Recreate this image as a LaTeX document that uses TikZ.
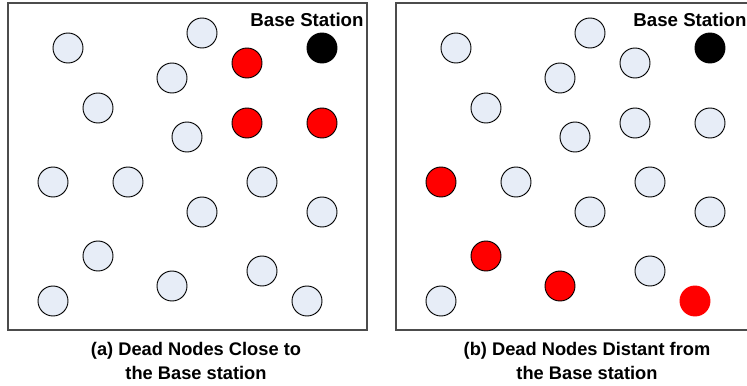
\documentclass[tikz,border=0pt]{standalone}
\usepackage{fontspec}
\setmainfont{Liberation Sans}
\usepackage{tikz}
\usetikzlibrary{shapes}

\begin{document}
\begin{tikzpicture}[x=0.75pt,y=-0.75pt,
  alive/.style={circle,draw,line width=0.7pt,fill=nodeblue,inner sep=0pt,minimum size=22.5pt},
  dead/.style={alive,fill=red},
  sink/.style={alive,fill=black},
  gone/.style={alive,draw=red,fill=red},
  frame/.style={draw=black!70,line width=1.1pt},
  label/.style={font=\fontsize{14}{16}\selectfont\bfseries},
  caption/.style={align=center,font=\fontsize{13.7}{18.5}\selectfont\bfseries}]
\definecolor{nodeblue}{RGB}{231,237,247}
\useasboundingbox (0,0) rectangle (747,386);
% panel (a)
\draw[frame] (8,3) rectangle (367,330);
\node[label,anchor=base] (bsa) at (307,26) {Base Station};
\node[alive] (a1) at (68,48) {};
\node[alive] (a2) at (202,33) {};
\node[dead]  (a3) at (247,63) {};
\node[sink]  (a4) at (322,48) {};
\node[alive] (a5) at (172,78) {};
\node[alive] (a6) at (98,108) {};
\node[alive] (a7) at (187,137) {};
\node[dead]  (a8) at (247,123) {};
\node[dead]  (a9) at (322,123) {};
\node[alive] (a10) at (53,182) {};
\node[alive] (a11) at (128,182) {};
\node[alive] (a12) at (262,182) {};
\node[alive] (a13) at (202,212) {};
\node[alive] (a14) at (322,212) {};
\node[alive] (a15) at (98,256) {};
\node[alive] (a16) at (172,286) {};
\node[alive] (a17) at (262,271) {};
\node[alive] (a18) at (53,301) {};
\node[alive] (a19) at (307,301) {};
\node[caption] (capa) at (196,361) {(a) Dead Nodes Close to\\the Base station};
% panel (b)
\draw[frame] (396,3) rectangle (755,330);
\node[label,anchor=base] (bsb) at (690,26) {Base Station};
\node[alive] (b1) at (456,48) {};
\node[alive] (b2) at (590,33) {};
\node[alive] (b3) at (635,63) {};
\node[sink]  (b4) at (710,48) {};
\node[alive] (b5) at (560,78) {};
\node[alive] (b6) at (486,108) {};
\node[alive] (b7) at (575,137) {};
\node[alive] (b8) at (635,123) {};
\node[alive] (b9) at (710,123) {};
\node[dead]  (b10) at (441,182) {};
\node[alive] (b11) at (516,182) {};
\node[alive] (b12) at (650,182) {};
\node[alive] (b13) at (590,212) {};
\node[alive] (b14) at (710,212) {};
\node[dead]  (b15) at (486,256) {};
\node[dead]  (b16) at (560,286) {};
\node[alive] (b17) at (650,271) {};
\node[alive] (b18) at (441,301) {};
\node[gone]  (b19) at (695,301) {};
\node[caption] (capb) at (587,361) {(b) Dead Nodes Distant from\\the Base station};
\end{tikzpicture}
\end{document}
